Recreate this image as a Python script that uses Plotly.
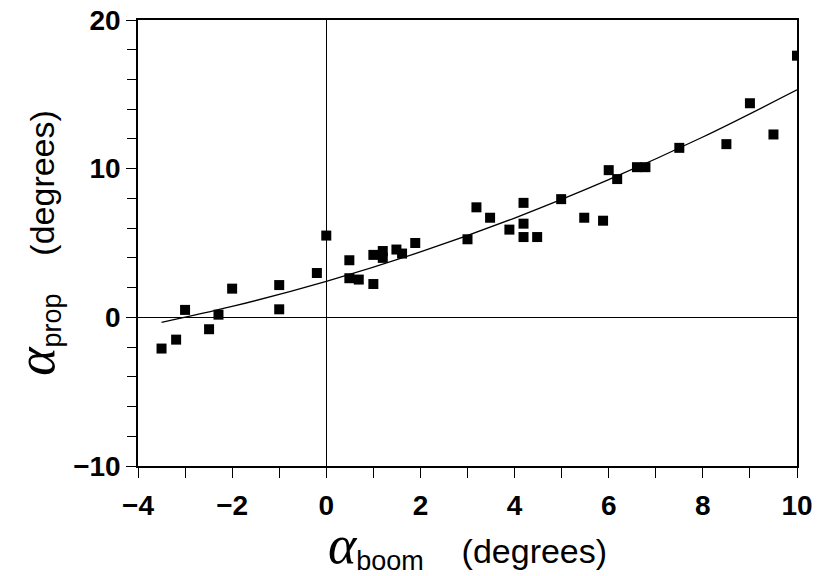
import plotly.graph_objects as go

# Measured prop angle vs boom angle (degrees)
alpha_boom = [-3.5, -3.19, -3.0, -2.49, -2.29, -2.0, -1.0, -1.0, -0.2, 0.0,
              0.49, 0.49, 0.69, 1.0, 1.0, 1.2, 1.2, 1.49, 1.61, 1.89,
              3.0, 3.19, 3.48, 3.89, 4.19, 4.19, 4.19, 4.48, 4.99, 5.48,
              5.88, 6.0, 6.18, 6.6, 6.78, 7.5, 8.5, 9.0, 9.5, 10.0]
alpha_prop = [-2.1, -1.5, 0.5, -0.8, 0.18, 1.93, 2.17, 0.54, 2.98, 5.5,
              3.84, 2.63, 2.54, 2.24, 4.2, 4.46, 4.0, 4.56, 4.29, 5.0,
              5.25, 7.4, 6.7, 5.9, 7.7, 6.3, 5.4, 5.4, 7.95, 6.7,
              6.5, 9.9, 9.3, 10.1, 10.1, 11.4, 11.65, 14.4, 12.3, 17.6]

# Fitted trend curve
fit_x = [-3.5, -2.0, 0.0, 2.0, 4.0, 6.0, 8.0, 10.0]
fit_y = [-0.34, 0.73, 2.42, 4.40, 6.68, 9.26, 12.13, 15.3]

x_ticks = [-4, -2, 0, 2, 4, 6, 8, 10]
y_ticks = [-10, 0, 10, 20]

fig = go.Figure()
fig.add_trace(go.Scatter(
    x=fit_x, y=fit_y, mode="lines",
    line=dict(color="black", width=1.3, shape="spline"),
    hoverinfo="skip", showlegend=False,
))
fig.add_trace(go.Scatter(
    x=alpha_boom, y=alpha_prop, mode="markers",
    marker=dict(symbol="square", size=10, color="black"),
    showlegend=False,
))

font_main = "Liberation Sans, Arial, Helvetica, sans-serif"
alpha_span = ("<span style='font-family:Liberation Serif;font-style:italic;"
              "font-weight:normal;font-size:54px'>α</span>")


def axis_title(sub):
    return (alpha_span + "<sub><span style='font-size:27px'>" + sub + "</span></sub>"
            + "&nbsp;&nbsp;&nbsp;&nbsp;(degrees)")


axis_common = dict(
    showline=True, linecolor="black", linewidth=1.5, mirror=True,
    showgrid=False, zeroline=True, zerolinecolor="black", zerolinewidth=1,
    ticks="outside", ticklen=10, tickwidth=1.2, tickcolor="black",
    tickfont=dict(family=font_main, size=28, color="black", weight="bold"),
    automargin=False,
)

fig.update_layout(
    width=818, height=576,
    margin=dict(l=138, r=21, t=20, b=110),
    paper_bgcolor="white", plot_bgcolor="white",
    font=dict(family=font_main, color="black"),
    xaxis=dict(
        range=[-4, 10], tickvals=x_ticks,
        minor=dict(dtick=1, ticks="outside", ticklen=10, tickwidth=1.2, tickcolor="black"),
        title=dict(text=axis_title("boom"),
                   font=dict(family=font_main, size=34, color="black"), standoff=2),
        ticklabelstandoff=4,
        **axis_common,
    ),
    yaxis=dict(
        range=[-10, 20], tickvals=y_ticks,
        minor=dict(dtick=2, ticks="outside", ticklen=9, tickwidth=1.2, tickcolor="black"),
        title=dict(text=axis_title("prop"),
                   font=dict(family=font_main, size=34, color="black"), standoff=8),
        **axis_common,
    ),
)

fig.write_html("out.html")
